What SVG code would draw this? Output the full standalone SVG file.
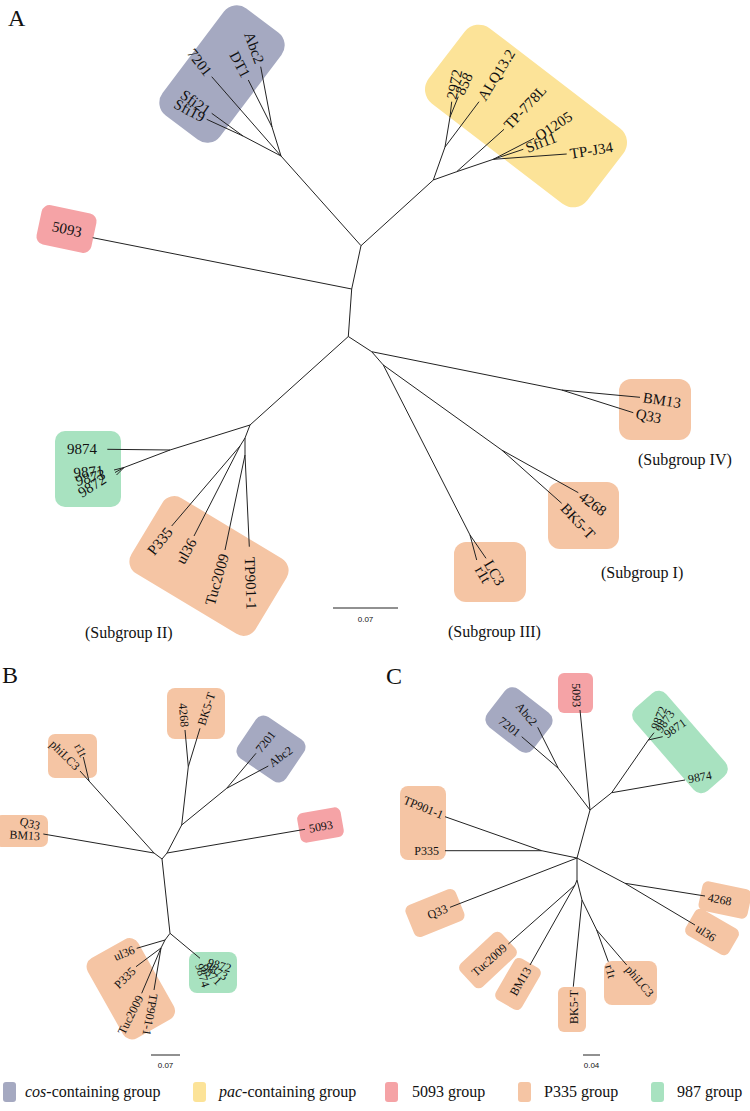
<svg xmlns="http://www.w3.org/2000/svg" width="750" height="1111" viewBox="0 0 750 1111">
<style>
text{font-family:"Liberation Serif","Times New Roman",serif;fill:#111}
.pl{font-size:24px}
.la{font-size:15px}
.ls{font-size:12px}
.sg{font-size:16px}
.sc{font-family:"Liberation Sans",Arial,sans-serif;font-size:8px}
.lg{font-size:16px}
.cos{fill:#a5a9c1}.pac{fill:#fce398}.p5093{fill:#f5a3a6}.p335{fill:#f5c5a4}.g987{fill:#a8e2c0}
.br{fill:none;stroke:#222;stroke-width:1}
</style>
<rect width="750" height="1111" fill="#fff"/>
<text class="pl" x="8" y="26">A</text>
<text class="pl" x="2" y="683">B</text>
<text class="pl" x="386" y="684">C</text>

<!-- Panel A boxes and labels -->
<g id="A-cos"><rect class="cos" x="-67" y="-36" width="134" height="72" rx="16" transform="translate(222,74) rotate(-53)"/>
<text class="la" dy="0.35em" text-anchor="end" transform="translate(209,74) rotate(52)">7201</text>
<text class="la" dy="0.35em" text-anchor="end" transform="translate(246.5,76.5) rotate(62)">DT1</text>
<text class="la" dy="0.35em" text-anchor="end" transform="translate(260,63) rotate(70)">Abc2</text>
<text class="la" dy="0.35em" text-anchor="end" transform="translate(209,111.5) rotate(35)">Sfi21</text>
<text class="la" dy="0.35em" text-anchor="end" transform="translate(204,118) rotate(28)">Sfi19</text></g>
<g id="A-pac"><rect class="pac" x="-100" y="-47.5" width="200" height="95" rx="18" transform="translate(526,116) rotate(37.5)"/>
<text class="la" dy="0.35em" transform="translate(451,99) rotate(-78)">2972</text>
<text class="la" dy="0.35em" transform="translate(459,94) rotate(-65)">858</text>
<text class="la" dy="0.35em" transform="translate(481,99) rotate(-58)">ALQ13.2</text>
<text class="la" dy="0.35em" transform="translate(506.5,127) rotate(-47)">TP-778L</text>
<text class="la" dy="0.35em" transform="translate(536.5,137) rotate(-33)">O1205</text>
<text class="la" dy="0.35em" transform="translate(526,148) rotate(-21)">Sfi11</text>
<text class="la" dy="0.35em" transform="translate(570,153.5) rotate(-9)">TP-J34</text></g>
<g id="A-5093"><rect class="p5093" x="-28" y="-20" width="56" height="40" rx="8" transform="translate(66.5,229) rotate(12)"/>
<text class="la" dy="0.35em" text-anchor="middle" transform="translate(67,229) rotate(12)">5093</text></g>
<g id="A-987"><rect class="g987" x="55" y="431" width="66" height="76" rx="10"/>
<text class="la" dy="0.35em" text-anchor="end" transform="translate(97,449)">9874</text>
<text class="la" transform="translate(74,478) rotate(-5)">9871</text>
<text class="la" transform="translate(77,486) rotate(-14)">9873</text>
<text class="la" transform="translate(82,498) rotate(-32)">9872</text></g>
<g id="A-P335"><rect class="p335" x="-72.5" y="-44" width="145" height="88" rx="14" transform="translate(209,566) rotate(31)"/>
<text class="la" dy="0.35em" text-anchor="end" transform="translate(169.5,529) rotate(-51)">P335</text>
<text class="la" dy="0.35em" text-anchor="end" transform="translate(192.5,539.5) rotate(-61)">ul36</text>
<text class="la" dy="0.35em" text-anchor="end" transform="translate(224,554) rotate(-74)">Tuc2009</text>
<text class="la" dy="0.35em" transform="translate(250,557) rotate(88)">TP901-1</text></g>
<g id="A-BM13"><rect class="p335" x="619" y="379" width="72" height="61" rx="12"/>
<text class="la" dy="0.35em" transform="translate(643,397) rotate(9)">BM13</text>
<text class="la" dy="0.35em" transform="translate(636,413) rotate(12)">Q33</text></g>
<g id="A-4268"><rect class="p335" x="548" y="482" width="71" height="67" rx="12"/>
<text class="la" dy="0.35em" transform="translate(581,494.5) rotate(37)">4268</text>
<text class="la" dy="0.35em" transform="translate(563.5,505.5) rotate(47)">BK5-T</text></g>
<g id="A-LC3"><rect class="p335" x="454" y="542" width="72" height="60" rx="12"/>
<text class="la" dy="0.35em" transform="translate(488,561) rotate(60)">LC3</text>
<text class="la" dy="0.35em" transform="translate(479,567) rotate(60)">r1t</text></g>
<g id="A-subgroups">
<text class="sg" x="638" y="465">(Subgroup IV)</text>
<text class="sg" x="601" y="578">(Subgroup I)</text>
<text class="sg" x="448" y="637">(Subgroup III)</text>
<text class="sg" x="85" y="638">(Subgroup II)</text></g>

<!-- Panel B -->
<g id="B-Q33"><rect class="p335" x="-5" y="815" width="53" height="32" rx="7"/>
<text class="ls" dy="0.35em" text-anchor="end" transform="translate(40,826) rotate(15)">Q33</text>
<text class="ls" dy="0.35em" text-anchor="end" transform="translate(40,836) rotate(3)">BM13</text></g>
<g id="B-phi"><rect class="p335" x="48" y="734" width="49" height="44" rx="7"/>
<text class="ls" dy="0.35em" text-anchor="end" transform="translate(78,768) rotate(45)">phiLC3</text>
<text class="ls" dy="0.35em" text-anchor="end" transform="translate(84,756) rotate(62)">r1t</text></g>
<g id="B-4268"><rect class="p335" x="167" y="688" width="58" height="51" rx="8"/>
<text class="ls" dy="0.35em" text-anchor="end" transform="translate(185,727) rotate(85)">4268</text>
<text class="ls" dy="0.35em" transform="translate(201,725) rotate(-72)">BK5-T</text></g>
<g id="B-cos"><rect class="cos" x="-29" y="-25" width="58" height="50" rx="9" transform="translate(271,749) rotate(34)"/>
<text class="ls" dy="0.35em" transform="translate(258,751) rotate(-52)">7201</text>
<text class="ls" dy="0.35em" transform="translate(270,764) rotate(-36)">Abc2</text></g>
<g id="B-5093"><rect class="p5093" x="-22" y="-15" width="44" height="30" rx="6" transform="translate(320.5,825) rotate(-10)"/>
<text class="ls" dy="0.35em" transform="translate(309,828.5) rotate(-10)">5093</text></g>
<g id="B-987"><rect class="g987" x="189" y="952" width="48" height="41" rx="8"/>
<text class="ls" dy="0.35em" transform="translate(208,962) rotate(15)">9872</text>
<text class="ls" dy="0.35em" transform="translate(206,965) rotate(30)">9873</text>
<text class="ls" dy="0.35em" transform="translate(203,966) rotate(45)">9871</text>
<text class="ls" dy="0.35em" transform="translate(199,964) rotate(72)">9874</text></g>
<g id="B-P335"><rect class="p335" x="-46" y="-29" width="92" height="58" rx="10" transform="translate(130.8,988.8) rotate(60.6)"/>
<text class="ls" dy="0.35em" text-anchor="end" transform="translate(134,949) rotate(-22)">ul36</text>
<text class="ls" dy="0.35em" text-anchor="end" transform="translate(133.5,969) rotate(-45)">P335</text>
<text class="ls" dy="0.35em" text-anchor="end" transform="translate(140,996) rotate(-63)">Tuc2009</text>
<text class="ls" dy="0.35em" transform="translate(154,994) rotate(100)">TP901-1</text></g>

<!-- Panel C -->
<g id="C-5093"><rect class="p5093" x="558" y="673" width="35" height="40" rx="6"/>
<text class="ls" dy="0.35em" text-anchor="end" transform="translate(577,707) rotate(88)">5093</text></g>
<g id="C-cos"><rect class="cos" x="-29" y="-24" width="58" height="48" rx="10" transform="translate(519,720) rotate(38)"/>
<text class="ls" dy="0.35em" text-anchor="end" transform="translate(535,724) rotate(50)">Abc2</text>
<text class="ls" dy="0.35em" text-anchor="end" transform="translate(519,734) rotate(38)">7201</text></g>
<g id="C-987"><rect class="g987" x="-55" y="-21" width="110" height="42" rx="10" transform="translate(680,742) rotate(49)"/>
<text class="ls" dy="0.35em" transform="translate(654,729) rotate(-68)">9872</text>
<text class="ls" dy="0.35em" transform="translate(658,731) rotate(-55)">9873</text>
<text class="ls" dy="0.35em" transform="translate(665,735) rotate(-35)">9871</text>
<text class="ls" dy="0.35em" transform="translate(688,779) rotate(-10)">9874</text></g>
<g id="C-TP"><rect class="p335" x="400" y="786" width="46" height="74" rx="8"/>
<text class="ls" dy="0.35em" text-anchor="end" transform="translate(443,815) rotate(22)">TP901-1</text>
<text class="ls" dy="0.35em" text-anchor="end" transform="translate(439,851)">P335</text></g>
<g id="C-Q33"><rect class="p335" x="-27" y="-17" width="54" height="34" rx="6" transform="translate(435,913) rotate(-22)"/>
<text class="ls" dy="0.35em" text-anchor="end" transform="translate(447,908) rotate(-21)">Q33</text></g>
<g id="C-4268"><rect class="p335" x="-25" y="-15" width="50" height="30" rx="6" transform="translate(725,900) rotate(12)"/>
<text class="ls" dy="0.35em" transform="translate(708,897) rotate(11)">4268</text></g>
<g id="C-ul36"><rect class="p335" x="-25" y="-15" width="50" height="30" rx="6" transform="translate(712,932) rotate(30)"/>
<text class="ls" dy="0.35em" transform="translate(697,927) rotate(33)">ul36</text></g>
<g id="C-Tuc"><rect class="p335" x="-28" y="-16" width="56" height="32" rx="6" transform="translate(488,960) rotate(-43)"/>
<text class="ls" dy="0.35em" text-anchor="end" transform="translate(505,946) rotate(-41)">Tuc2009</text></g>
<g id="C-BM13"><rect class="p335" x="-24" y="-15" width="48" height="30" rx="6" transform="translate(518,984) rotate(-60)"/>
<text class="ls" dy="0.35em" text-anchor="end" transform="translate(528,968) rotate(-60)">BM13</text></g>
<g id="C-BK5"><rect class="p335" x="558" y="987" width="28" height="45" rx="6"/>
<text class="ls" dy="0.35em" text-anchor="end" transform="translate(573.5,990) rotate(-90)">BK5-T</text></g>
<g id="C-phi"><rect class="p335" x="604" y="961" width="53" height="44" rx="8"/>
<text class="ls" dy="0.35em" transform="translate(609,965) rotate(75)">r1t</text>
<text class="ls" dy="0.35em" transform="translate(628,967) rotate(50)">phiLC3</text></g>

<g id="connectors" class="br">
<path d="M361,245.7 L351.7,289 L348.3,336.5 M361,245.7 L281,156 L211.7,76.7 M281,156 L272,127 L248.3,80 M272,127 L260.7,66.7 M281,156 L243,136 L211.7,113.3 M243,136 L206.7,119.3"/>
<path d="M361,245.7 L433.3,180 L445,147 L450,117 L451.7,101.7 M450,117 L458.3,96.7 M445,147 L479,101.7 M433.3,180 L456.7,171.7 L504,129.3 M456.7,171.7 L493.3,159.3 L534,138.3 M493.3,159.3 L523.3,149.3 M493.3,159.3 L566.7,154"/>
<path d="M351.7,289 L92.7,237.7"/>
<path d="M348.3,336.5 L371.7,351.7 L561.7,390 L640,397.3 M561.7,390 L633.3,412.7 M371.7,351.7 L383.3,365 L501.7,450 L578.3,492.7 M501.7,450 L561.7,503.3 M383.3,365 L470,535 L486,558.3 M470,535 L476.7,560"/>
<path d="M348.3,336.5 L250,425 L170,450 L107.3,449.3 M170,450 L124,467.5 L114,470 M124,467.5 L115,472.5 M124,467.5 L116.5,475 M250,425 L245,438 L240,446 L171.7,526 M240,446 L194,536 M245,438 L245,455 L225,550 M245,455 L249.3,546.7"/>
<path d="M162,859 L154,853 L43.3,834 M154,853 L89,781 L80,771 M89,781 L83.3,757 M162,859 L167,853 L305,829.3 M167,853 L181.7,825 L188.3,766.7 L185,730 M188.3,766.7 L200,728.3 M181.7,825 L226.7,788.3 L256,753.3 M226.7,788.3 L268.3,766"/>
<path d="M162,859 L170,933.3 L200,958.3 M170,933.3 L165,940 L136.7,948.3 M165,940 L161,948 L136,966.7 M161,948 L141.7,993.3 M161,948 L154,990"/>
<path d="M577,858 L590,810 L580,710 M590,810 L558.3,768.3 L521.7,736.7 M558.3,768.3 L537.7,727.3 M590,810 L611.7,792.7 L685,780 M611.7,792.7 L648.3,740 L654,732.7 M648.3,740 L662.7,736.7"/>
<path d="M577,858 L541.7,850.7 L445,816.7 M541.7,850.7 L445,850.7 M577,858 L450,907.3 M577,858 L625,883.3 L705,896 M625,883.3 L695,925 M577,858 L577,880 L575,885 L508.3,944 M575,885 L530,965 M577,880 L582,900 L573.3,986.7 M582,900 L596.7,930 L608.3,961.7 M596.7,930 L626.7,965"/>
<path d="M333,608 H398 M151,1055 H180 M583,1055 H600"/>
</g>
<g id="scales">
<text class="sc" x="365.5" y="622" text-anchor="middle">0.07</text>
<text class="sc" x="165.5" y="1068" text-anchor="middle">0.07</text>
<text class="sc" x="591.5" y="1068" text-anchor="middle">0.04</text></g>

<g id="legend">
<rect class="cos" x="3" y="1082" width="13" height="20" rx="3"/>
<text class="lg" x="25" y="1097"><tspan font-style="italic">cos</tspan>-containing group</text>
<rect class="pac" x="193" y="1082" width="13" height="20" rx="3"/>
<text class="lg" x="219" y="1097"><tspan font-style="italic">pac</tspan>-containing group</text>
<rect class="p5093" x="385" y="1082" width="13" height="20" rx="3"/>
<text class="lg" x="412" y="1097">5093 group</text>
<rect class="p335" x="518" y="1082" width="13" height="20" rx="3"/>
<text class="lg" x="544" y="1097">P335 group</text>
<rect class="g987" x="651" y="1082" width="13" height="20" rx="3"/>
<text class="lg" x="677" y="1097">987 group</text></g>
</svg>
